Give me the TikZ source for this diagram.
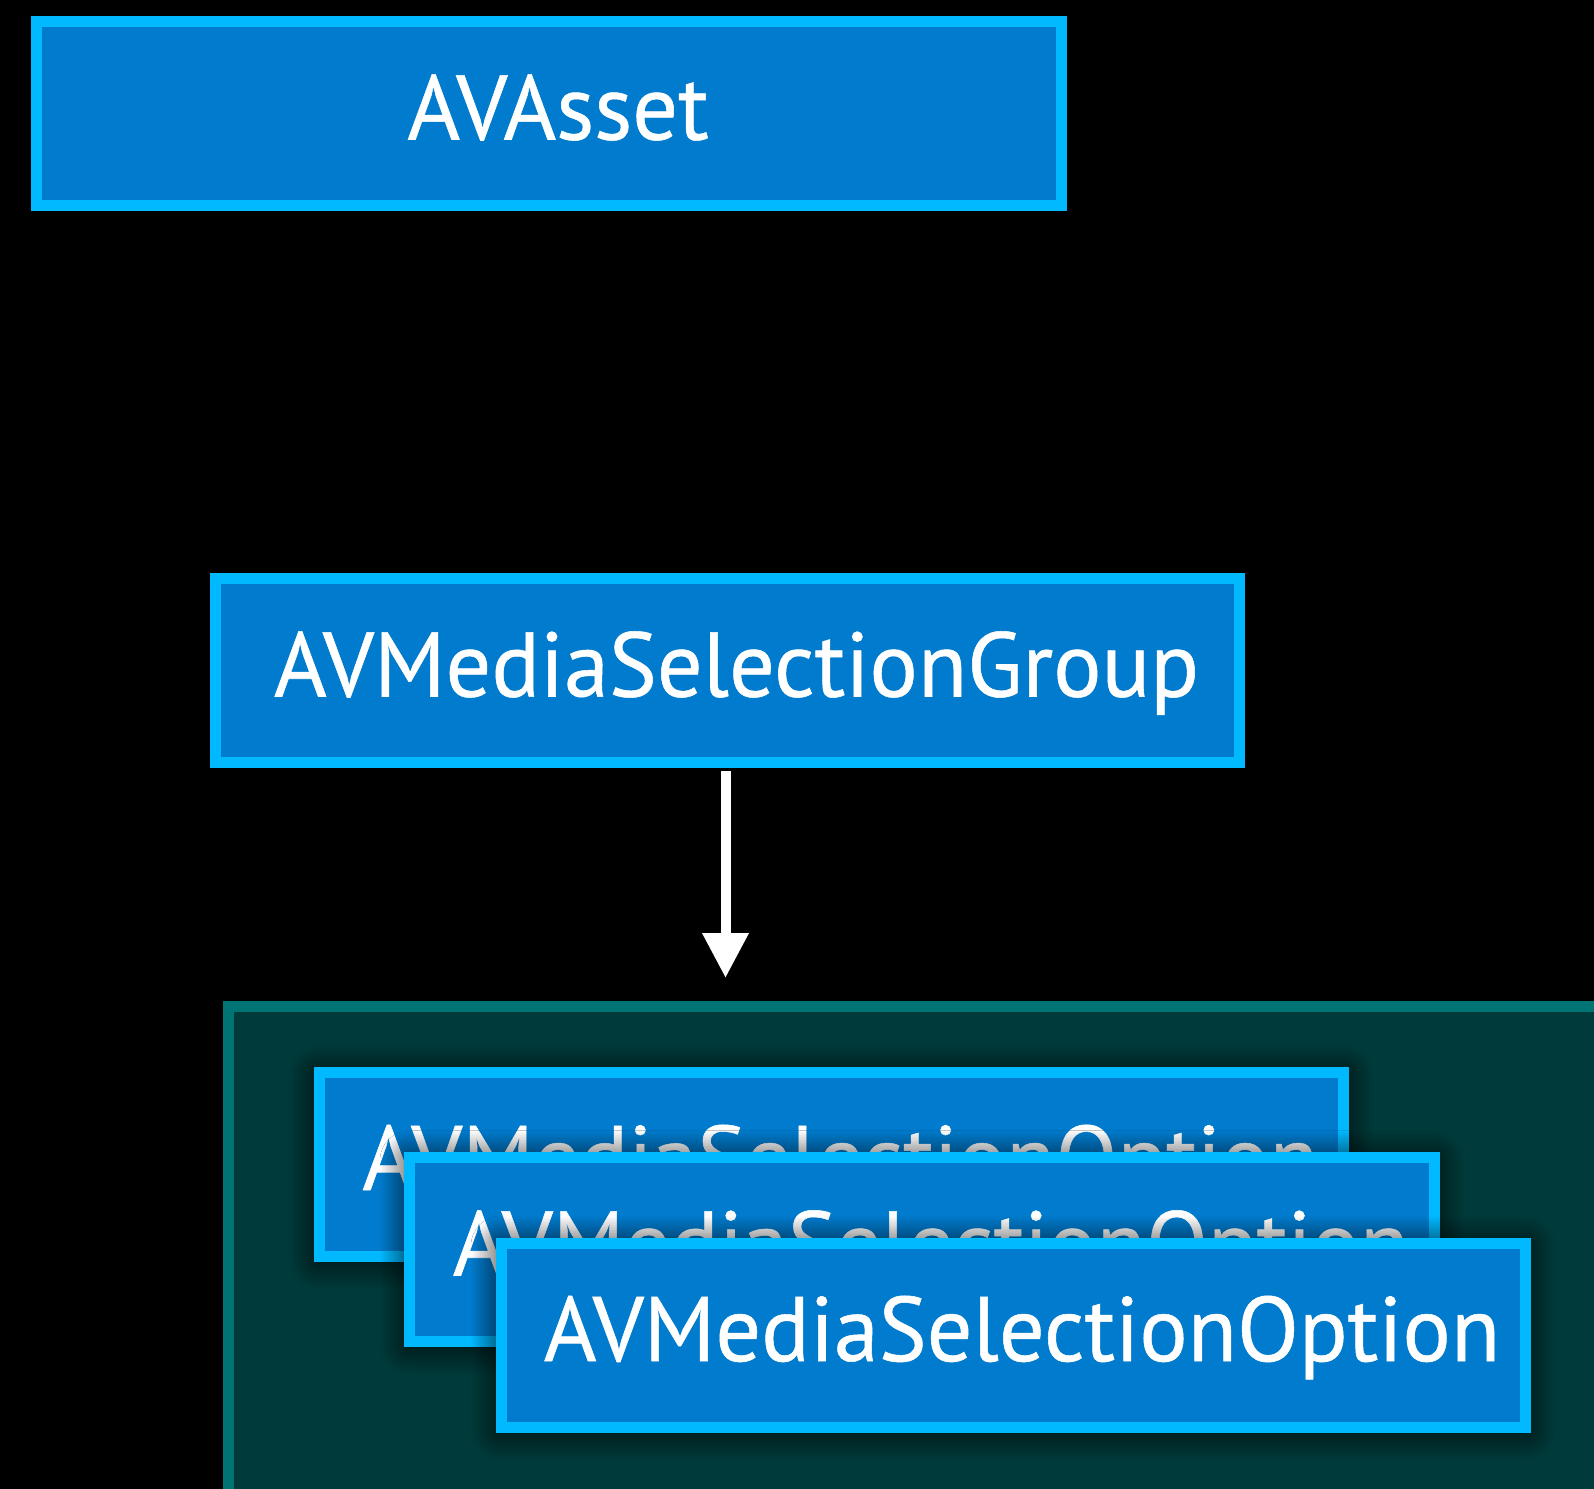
\documentclass[tikz,border=0pt]{standalone}
\usepackage{fontspec}
\setmainfont{PT Sans}[FakeBold=0.6]
\usetikzlibrary{arrows.meta,shadows.blur,calc}
\definecolor{boxfill}{RGB}{0,123,205}
\definecolor{boxline}{RGB}{0,185,255}
\definecolor{contfill}{RGB}{0,58,58}
\definecolor{contline}{RGB}{0,116,116}
\begin{document}
\begin{tikzpicture}[x=1bp,y=-1bp,
  classbox/.style={draw=boxline, fill=boxfill, line width=11bp, minimum width=1024bp, minimum height=184bp, inner sep=0pt, outer sep=0pt},
  optbox/.style={classbox, blur shadow={shadow xshift=0bp, shadow yshift=-3bp, shadow blur radius=30bp, shadow opacity=100, shadow blur steps=20}},
  lbl/.style={text=white, font=\fontsize{92}{110}\selectfont, anchor=base, inner sep=0pt, xscale=0.985},
  contbox/.style={draw=contline, fill=contfill, line width=11bp, inner sep=0pt, outer sep=0pt, anchor=north west, minimum width=1400bp, minimum height=520bp}
  ]
\useasboundingbox (0,0) rectangle (1594,1489);
\clip (0,0) rectangle (1594,1489);
\fill[black] (0,0) rectangle (1594,1489);

\node[contbox] (cont) at (228.5,1006.5) {};

\node[classbox] (asset) at (549,113.5) {};
\node[lbl] (assettxt) at ($(asset.center)+(9,26)$) {AVAsset};

\node[classbox] (group) at (727.5,670.5) {};
\node[lbl] (grouptxt) at ($(group.center)+(9,26)$) {AVMediaSelectionGroup};

\draw[white, line width=10bp, -{Triangle[width=44bp,length=45bp]}, shorten <=8.5bp, shorten >=28.5bp]
  ([xshift=-2bp]group.south) -- ([xshift=-2bp]group.south |- cont.north);

\node[optbox] (opt1) at (831.5,1164) {};
\node[lbl] (opt1txt) at ($(opt1.center)+(9,26)$) {AVMediaSelectionOption};

\node[optbox] (opt2) at (922,1249.5) {};
\node[lbl] (opt2txt) at ($(opt2.center)+(9,26)$) {AVMediaSelectionOption};

\node[optbox] (opt3) at (1013,1335) {};
\node[lbl] (opt3txt) at ($(opt3.center)+(9,26)$) {AVMediaSelectionOption};
\end{tikzpicture}
\end{document}
